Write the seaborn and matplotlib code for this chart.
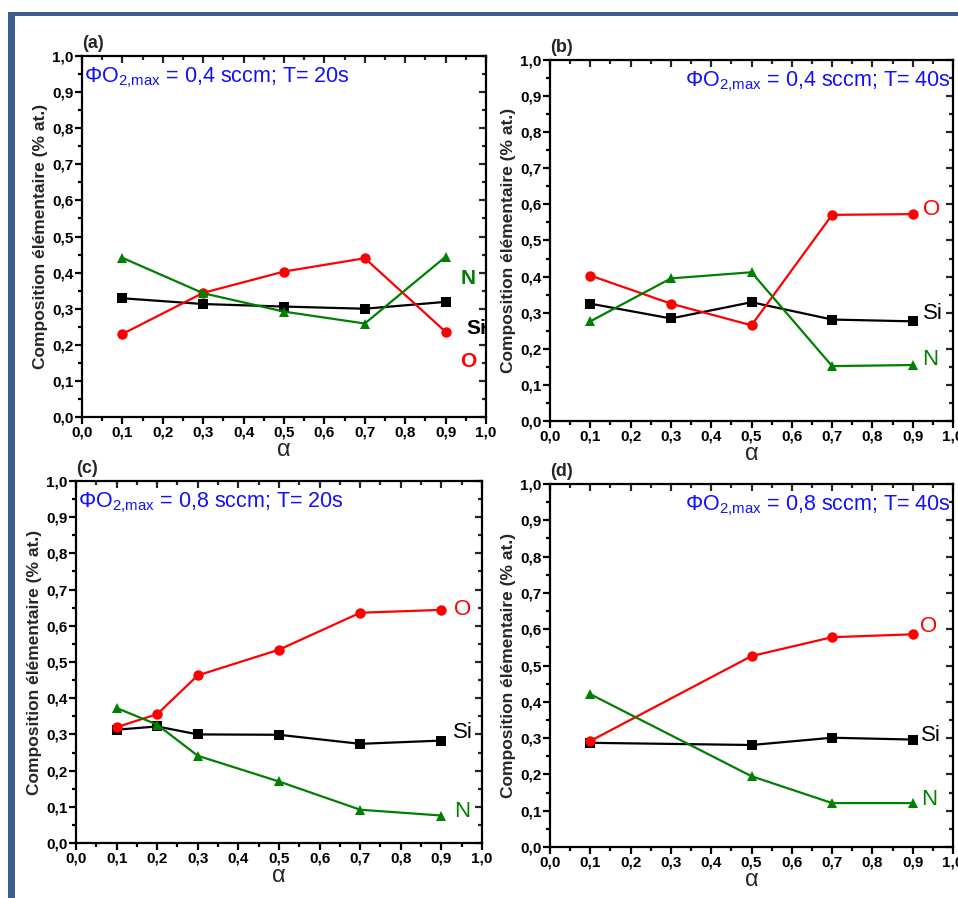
import matplotlib
matplotlib.use("Agg")
import matplotlib.pyplot as plt
import matplotlib.patches as mpatches
from matplotlib.ticker import MultipleLocator, FuncFormatter
import seaborn as sns
import pandas as pd

# ---- data ----
alpha_a = [0.1, 0.3, 0.5, 0.7, 0.9]
si_a = [0.329, 0.313, 0.306, 0.300, 0.319]
o_a = [0.230, 0.344, 0.403, 0.440, 0.236]
n_a = [0.441, 0.343, 0.292, 0.259, 0.444]

alpha_b = [0.1, 0.3, 0.5, 0.7, 0.9]
si_b = [0.325, 0.284, 0.329, 0.281, 0.276]
o_b = [0.403, 0.325, 0.265, 0.571, 0.573]
n_b = [0.276, 0.395, 0.412, 0.152, 0.155]

alpha_c = [0.1, 0.2, 0.3, 0.5, 0.7, 0.9]
si_c = [0.313, 0.322, 0.300, 0.299, 0.274, 0.283]
o_c = [0.320, 0.356, 0.463, 0.534, 0.636, 0.644]
n_c = [0.373, 0.327, 0.241, 0.170, 0.092, 0.076]

alpha_d = [0.1, 0.5, 0.7, 0.9]
si_d = [0.287, 0.281, 0.301, 0.296]
o_d = [0.292, 0.526, 0.578, 0.586]
n_d = [0.421, 0.195, 0.121, 0.121]

panel_letters = ["(a)", "(b)", "(c)", "(d)"]
flows = ["0,4", "0,4", "0,8", "0,8"]
times = ["20s", "40s", "20s", "40s"]
series_names = ["Si", "O", "N"]

sns.set_style("ticks")
ARIAL = ["Liberation Sans", "DejaVu Sans"]
plt.rcParams["font.family"] = ARIAL

fig = plt.figure(figsize=(9.58, 8.98), dpi=100)

# blue frame
frame_col = "#3d5e8c"
fig.add_artist(mpatches.Rectangle((8 / 958, 0), 7 / 958, 1 - 12 / 898,
                                  transform=fig.transFigure, color=frame_col, lw=0))
fig.add_artist(mpatches.Rectangle((8 / 958, 1 - 16 / 898), 1, 4 / 898,
                                  transform=fig.transFigure, color=frame_col, lw=0))

positions = [
    [0.0856, 0.5356, 0.4217, 0.4020],
    [0.5741, 0.5312, 0.4207, 0.4020],
    [0.0793, 0.0612, 0.4238, 0.4032],
    [0.5741, 0.0568, 0.4207, 0.4042],
]

datasets = [
    (alpha_a, si_a, o_a, n_a),
    (alpha_b, si_b, o_b, n_b),
    (alpha_c, si_c, o_c, n_c),
    (alpha_d, si_d, o_d, n_d),
]

# label positions (x, y) for Si, O, N per panel
label_pos = [
    [(0.975, 0.246), (0.956, 0.153), (0.956, 0.384)],
    [(0.950, 0.298), (0.946, 0.587), (0.944, 0.169)],
    [(0.952, 0.304), (0.952, 0.644), (0.952, 0.087)],
    [(0.946, 0.306), (0.940, 0.607), (0.942, 0.132)],
]

colors = {"Si": "black", "O": "red", "N": "#008000"}
markers = {"Si": "s", "O": "o", "N": "^"}

fmt = FuncFormatter(lambda v, p: f"{v:.1f}".replace(".", ","))

for i, (pos, data) in enumerate(zip(positions, datasets)):
    ax = fig.add_axes(pos)
    x, si, o, n = data
    vals = {"Si": si, "O": o, "N": n}
    for name in series_names:
        df = pd.DataFrame({"alpha": x, "val": vals[name]})
        sns.lineplot(data=df, x="alpha", y="val", ax=ax, color=colors[name],
                     marker=markers[name], markersize=7.5, markeredgewidth=0,
                     linewidth=1.6, legend=False)
    ax.set_xlim(0, 1)
    ax.set_ylim(0, 1)
    ax.xaxis.set_major_locator(MultipleLocator(0.1))
    ax.yaxis.set_major_locator(MultipleLocator(0.1))
    ax.xaxis.set_minor_locator(MultipleLocator(0.05))
    ax.yaxis.set_minor_locator(MultipleLocator(0.05))
    ax.xaxis.set_major_formatter(fmt)
    ax.yaxis.set_major_formatter(fmt)
    for s in ax.spines.values():
        s.set_visible(True)
        s.set_linewidth(1.6)
        s.set_color("black")
    ax.tick_params(which="both", direction="out", width=1.6, top=False, right=False,
                   labelsize=11, pad=1.0, colors="black")
    ax.tick_params(which="major", length=5)
    ax.tick_params(which="minor", length=3)
    # mirrored inward ticks on top/right
    sec_x = ax.secondary_xaxis("top")
    sec_x.xaxis.set_major_locator(MultipleLocator(0.1))
    sec_x.xaxis.set_minor_locator(MultipleLocator(0.05))
    sec_x.tick_params(which="both", direction="in", width=1.6, labeltop=False)
    sec_x.tick_params(which="major", length=5)
    sec_x.tick_params(which="minor", length=3)
    sec_x.spines["top"].set_visible(False)
    sec_y = ax.secondary_yaxis("right")
    sec_y.yaxis.set_major_locator(MultipleLocator(0.1))
    sec_y.yaxis.set_minor_locator(MultipleLocator(0.05))
    sec_y.tick_params(which="both", direction="in", width=1.6, labelright=False)
    sec_y.tick_params(which="major", length=5)
    sec_y.tick_params(which="minor", length=3)
    sec_y.spines["right"].set_visible(False)
    for lab in ax.get_xticklabels() + ax.get_yticklabels():
        lab.set_fontweight("bold")

    ax.set_xlabel("α", fontsize=17, labelpad=0)
    ax.set_ylabel("Composition élémentaire (% at.)", fontsize=12.5,
                  fontweight="bold", labelpad=3)

    ax.text(0.0, 1.01, panel_letters[i], transform=ax.transAxes, fontsize=13,
            fontweight="bold", ha="left", va="bottom")

    ann = "ΦO$_{\\mathregular{2{,}max}}$ = " + flows[i] + " sccm; T= " + times[i]
    if i % 2 == 0:
        ax.text(0.006, 0.975, ann, transform=ax.transAxes, color="#1010ff",
                fontsize=15.5, ha="left", va="top")
    else:
        ax.text(0.995, 0.975, ann, transform=ax.transAxes, color="#1010ff",
                fontsize=15.5, ha="right", va="top")

    bold = (i == 0)
    for name, (lx, ly) in zip(series_names, label_pos[i]):
        ax.text(lx, ly, name, color=colors[name], fontsize=16 if not bold else 15,
                fontweight="bold" if bold else "normal",
                ha="center", va="center", clip_on=False)

fig.savefig("out.png", dpi=100)
